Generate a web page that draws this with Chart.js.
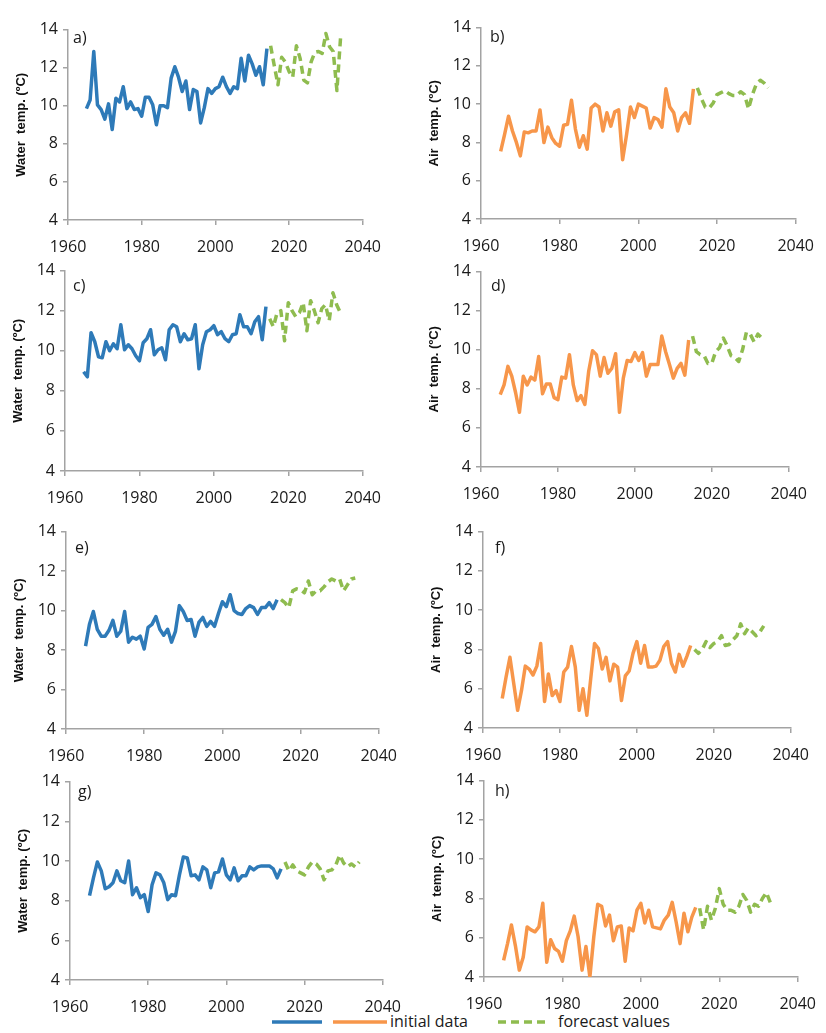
<!DOCTYPE html>
<html>
<head>
<meta charset="utf-8">
<script src="https://cdn.jsdelivr.net/npm/chart.js@4.4.8/dist/chart.umd.min.js"></script>
<style>
  html, body { margin: 0; padding: 0; background: #fff; }
  #page { position: relative; width: 826px; height: 1033px; overflow: hidden; font-family: "Open Sans", sans-serif; color: #1a1a1a; }
  .plabel { position: absolute; font-size: 16px; line-height: 16px; }
  .legtext { position: absolute; top: 1011px; font-size: 16px; line-height: 20px; }
  svg.leg { position: absolute; left: 0; top: 1012px; }
</style>
</head>
<body>
<div id="page">
  <svg class="leg" width="826" height="20">
    <line x1="272" y1="10" x2="322" y2="10" stroke="#2e7ab8" stroke-width="3.5"/>
    <line x1="333" y1="10" x2="387" y2="10" stroke="#f7964a" stroke-width="3.5"/>
    <line x1="498" y1="10" x2="548" y2="10" stroke="#8fbc4f" stroke-width="3.5" stroke-dasharray="8,5"/>
  </svg>
  <div class="legtext" style="left:390px">initial data</div>
  <div class="legtext" style="left:558px">forecast values</div>
</div>
<script>
  // years of the observed series and of the forecasts
  const YEARS_OBS = [1965, 1966, 1967, 1968, 1969, 1970, 1971, 1972, 1973, 1974,
    1975, 1976, 1977, 1978, 1979, 1980, 1981, 1982, 1983, 1984,
    1985, 1986, 1987, 1988, 1989, 1990, 1991, 1992, 1993, 1994,
    1995, 1996, 1997, 1998, 1999, 2000, 2001, 2002, 2003, 2004,
    2005, 2006, 2007, 2008, 2009, 2010, 2011, 2012, 2013, 2014];
  const YEARS_FC_WATER = [2015, 2016, 2017, 2018, 2019, 2020, 2021, 2022, 2023, 2024,
    2025, 2026, 2027, 2028, 2029, 2030, 2031, 2032, 2033, 2034];
  const YEARS_FC_AIR = [2015, 2016, 2017, 2018, 2019, 2020, 2021, 2022, 2023, 2024,
    2025, 2026, 2027, 2028, 2029, 2030, 2031, 2032, 2033];

  const X_TICKS = [1960, 1980, 2000, 2020, 2040];
  const Y_TICKS = [4, 6, 8, 10, 12, 14];
  const PANEL_NAMES = ['a)', 'b)', 'c)', 'd)', 'e)', 'f)', 'g)', 'h)'];
  const WATER_TITLE = 'Water  temp. (ºC)';
  const AIR_TITLE = 'Air  temp. (ºC)';
  const LEGEND_LABELS = ['initial data', 'forecast values'];

  // a) water
  const waterA = [9.85, 10.3, 12.85, 10.05, 9.8, 9.3, 10.1, 8.75, 10.4, 10.2,
    11.0, 9.85, 10.2, 9.8, 9.85, 9.45, 10.45, 10.45, 10.05, 9.0,
    10.0, 10.0, 9.9, 11.45, 12.05, 11.5, 10.75, 11.3, 9.8, 10.85,
    10.75, 9.1, 9.9, 10.9, 10.65, 10.9, 11.0, 11.5, 11.0, 10.65,
    11.0, 10.9, 12.5, 11.3, 12.65, 12.2, 11.6, 12.05, 11.1, 13.0];
  const waterAForecast = [13.15, 12.1, 11.1, 12.55, 12.3, 11.8, 11.5, 13.15, 12.5, 11.35,
    11.2, 12.3, 12.8, 12.85, 12.75, 13.8, 13.1, 12.85, 10.8, 13.6];
  // b) air
  const airB = [7.53, 8.42, 9.37, 8.6, 8.0, 7.3, 8.55, 8.5, 8.6, 8.6,
    9.7, 8.0, 8.8, 8.25, 7.95, 7.8, 8.9, 8.95, 10.2, 8.7,
    7.75, 8.35, 7.65, 9.8, 10.0, 9.85, 8.6, 9.55, 8.85, 9.6,
    9.7, 7.1, 8.4, 9.85, 9.3, 10.0, 9.9, 9.8, 8.75, 9.3,
    9.2, 8.8, 10.8, 9.85, 9.55, 8.6, 9.3, 9.55, 9.0, 10.8];
  const airBForecast = [10.85, 10.3, 9.85, 9.8, 10.05, 10.5, 10.6, 10.7, 10.55, 10.45,
    10.45, 10.65, 10.5, 9.75, 10.5, 11.05, 11.25, 11.1, 10.85];
  // c) water
  const waterC = [8.95, 8.7, 10.9, 10.45, 9.7, 9.65, 10.45, 10.0, 10.35, 10.1,
    11.3, 10.05, 10.3, 10.1, 9.75, 9.5, 10.4, 10.6, 11.05, 9.8,
    10.05, 10.15, 9.55, 11.05, 11.3, 11.2, 10.45, 10.85, 10.55, 10.6,
    11.3, 9.1, 10.3, 10.95, 11.05, 11.25, 10.8, 10.95, 10.6, 10.45,
    10.8, 10.85, 11.8, 11.2, 11.2, 10.85, 11.45, 11.7, 10.55, 12.2];
  const waterCForecast = [11.6, 11.2, 11.9, 12.0, 10.5, 12.4, 12.0, 11.7, 11.9, 12.4,
    11.0, 12.5, 12.0, 11.4, 12.1, 12.3, 11.5, 12.9, 12.3, 11.9];
  // d) air
  const airD = [7.7, 8.2, 9.15, 8.65, 7.8, 6.8, 8.65, 8.2, 8.6, 8.45,
    9.65, 7.75, 8.25, 8.25, 7.55, 7.45, 8.6, 8.55, 9.75, 8.2,
    7.4, 7.65, 7.2, 8.9, 9.95, 9.75, 8.65, 9.6, 8.8, 9.05,
    9.8, 6.8, 8.55, 9.45, 9.4, 9.85, 9.45, 9.85, 8.65, 9.25,
    9.25, 9.25, 10.7, 9.9, 9.25, 8.55, 9.05, 9.3, 8.7, 10.5];
  const airDForecast = [10.7, 9.9, 9.75, 9.7, 9.3, 9.3, 9.9, 10.1, 10.6, 10.2,
    9.7, 9.6, 9.4, 10.0, 10.9, 10.8, 10.4, 10.8, 10.6];
  // e) water
  const waterE = [8.2, 9.3, 9.95, 9.05, 8.7, 8.7, 9.0, 9.5, 8.7, 8.95,
    9.95, 8.4, 8.65, 8.55, 8.7, 8.05, 9.15, 9.3, 9.7, 9.05,
    8.75, 9.05, 8.4, 8.95, 10.25, 9.95, 9.5, 9.55, 8.7, 9.4,
    9.65, 9.2, 9.45, 9.2, 9.85, 10.45, 10.2, 10.8, 10.0, 9.85,
    9.8, 10.1, 10.25, 10.15, 9.8, 10.15, 10.15, 10.4, 10.1, 10.55];
  const waterEForecast = [10.55, 10.4, 10.15, 11.0, 11.1, 11.05, 10.9, 11.5, 10.8, 11.0,
    11.0, 11.2, 11.45, 11.6, 11.5, 11.6, 11.0, 11.3, 11.6, 11.65];
  // f) air
  const airF = [5.5, 6.6, 7.6, 6.25, 4.9, 5.9, 7.15, 7.0, 6.7, 7.15,
    8.3, 5.35, 6.75, 5.65, 5.9, 5.35, 6.85, 7.1, 8.15, 7.1,
    4.9, 6.0, 4.65, 6.5, 8.3, 8.05, 7.0, 7.6, 6.4, 7.25,
    7.1, 5.4, 6.65, 6.9, 7.8, 8.4, 7.3, 8.2, 7.1, 7.1,
    7.15, 7.45, 8.15, 8.4, 7.3, 6.85, 7.75, 7.15, 7.65, 8.2];
  const airFForecast = [8.0, 7.8, 8.0, 8.4, 8.1, 8.3, 8.4, 8.7, 8.2, 8.25,
    8.5, 8.7, 9.3, 8.8, 9.1, 8.9, 8.7, 8.9, 9.2];
  // g) water
  const waterG = [8.25, 9.15, 9.95, 9.5, 8.6, 8.7, 8.9, 9.5, 9.0, 8.9,
    10.0, 8.3, 8.65, 8.15, 8.3, 7.45, 8.8, 9.4, 9.3, 8.9,
    8.05, 8.3, 8.25, 9.3, 10.2, 10.15, 9.25, 9.3, 9.05, 9.7,
    9.55, 8.65, 9.4, 9.45, 10.1, 9.3, 9.05, 9.65, 9.0, 9.25,
    9.25, 9.7, 9.55, 9.7, 9.75, 9.75, 9.75, 9.6, 9.15, 9.6];
  const waterGForecast = [9.95, 9.5, 9.8, 9.5, 9.4, 9.3, 9.7, 9.95, 9.85, 9.6,
    9.05, 9.5, 9.55, 9.8, 10.3, 9.9, 9.7, 9.85, 9.7, 9.95];
  // h) air
  const airH = [4.85, 5.7, 6.65, 5.6, 4.35, 5.0, 6.55, 6.4, 6.3, 6.55,
    7.75, 4.75, 5.9, 5.45, 5.3, 4.8, 5.85, 6.35, 7.1, 6.05,
    4.35, 5.55, 4.0, 6.05, 7.7, 7.6, 6.6, 7.15, 5.85, 6.55,
    6.6, 4.8, 6.5, 6.35, 7.4, 7.75, 6.75, 7.4, 6.55, 6.5,
    6.45, 6.9, 7.15, 7.8, 6.8, 5.7, 7.25, 6.3, 7.05, 7.55];
  const airHForecast = [7.5, 6.4, 7.6, 6.9, 7.5, 8.5, 7.7, 7.4, 7.4, 7.3,
    7.6, 8.2, 7.9, 7.3, 7.7, 7.6, 8.0, 8.3, 7.8];

  const BLUE = '#2e7ab8';
  const ORANGE = '#f7964a';
  const GREEN = '#8fbc4f';
  const AXIS = '#a3a3a3';

  // plot area of every panel in page pixels (left, top, right, bottom)
  const panels = [
    { box: [68, 27, 372, 220], lab: [5, 10], water: true, obs: waterA, fc: waterAForecast },
    { box: [481, 25, 805, 219], lab: [9, 11], water: false, obs: airB, fc: airBForecast },
    { box: [65, 268, 372, 471], lab: [8, 17], water: true, obs: waterC, fc: waterCForecast },
    { box: [481, 269, 798, 467], lab: [10, 16], water: false, obs: airD, fc: airDForecast },
    { box: [66, 529, 388, 729], lab: [9, 18], water: true, obs: waterE, fc: waterEForecast },
    { box: [483, 529, 800, 728], lab: [12, 18], water: false, obs: airF, fc: airFForecast },
    { box: [70, 779, 392, 980], lab: [8, 12], water: true, obs: waterG, fc: waterGForecast },
    { box: [484, 778, 807, 977], lab: [11, 12], water: false, obs: airH, fc: airHForecast }
  ];

  const Y_W = 60;   // width kept for the y axis
  const X_H = 34;   // height kept for the x axis
  const PAD_T = 12;
  const PAD_R = 22;

  const page = document.getElementById('page');

  function makePanel(p, i) {
    const [l, t, r, b] = p.box;
    const w = r - l + Y_W + PAD_R;
    const h = b - t + PAD_T + X_H;
    const cv = document.createElement('canvas');
    cv.width = w;
    cv.height = h;
    cv.style.cssText = 'position:absolute;left:' + (l - Y_W) + 'px;top:' + (t - PAD_T) + 'px;width:' + w + 'px;height:' + h + 'px';
    page.appendChild(cv);

    const lab = document.createElement('div');
    lab.className = 'plabel';
    lab.textContent = PANEL_NAMES[i];
    lab.style.left = (l + p.lab[0]) + 'px';
    lab.style.top = (t + p.lab[1] - 8) + 'px';
    page.appendChild(lab);

    const fcYears = p.water ? YEARS_FC_WATER : YEARS_FC_AIR;
    new Chart(cv, {
      type: 'line',
      data: {
        datasets: [{
          label: LEGEND_LABELS[0],
          data: YEARS_OBS.map((y, k) => ({ x: y, y: p.obs[k] })),
          borderColor: p.water ? BLUE : ORANGE,
          borderWidth: 3.5,
          borderJoinStyle: 'round',
          pointRadius: 0,
          tension: 0
        }, {
          label: LEGEND_LABELS[1],
          data: fcYears.map((y, k) => ({ x: y, y: p.fc[k] })),
          borderColor: GREEN,
          borderWidth: 3.5,
          borderDash: [8, 5],
          borderJoinStyle: 'round',
          pointRadius: 0,
          tension: 0
        }]
      },
      options: {
        responsive: false,
        animation: false,
        events: [],
        layout: { padding: { top: PAD_T, right: PAD_R, left: 0, bottom: 0 } },
        plugins: { legend: { display: false }, tooltip: { enabled: false } },
        scales: {
          x: {
            type: 'linear',
            min: 1960, max: 2040,
            afterFit: s => { s.height = X_H; },
            afterBuildTicks: s => { s.ticks = X_TICKS.map(v => ({ value: v })); },
            border: { color: AXIS, width: 1.5 },
            grid: { drawOnChartArea: false, color: AXIS, tickLength: 5, lineWidth: 1.5 },
            ticks: {
              color: '#1a1a1a', padding: 13, maxRotation: 0,
              font: { family: 'Open Sans', size: 16 },
              callback: v => String(v)
            }
          },
          y: {
            min: 4, max: 14,
            afterFit: s => { s.width = Y_W; },
            afterBuildTicks: s => { s.ticks = Y_TICKS.map(v => ({ value: v })); },
            border: { color: AXIS, width: 1.5 },
            grid: { drawOnChartArea: false, color: AXIS, tickLength: 5, lineWidth: 1.5 },
            ticks: { color: '#1a1a1a', padding: 5, font: { family: 'Open Sans', size: 16 }, callback: v => String(v) },
            title: {
              display: true,
              text: p.water ? WATER_TITLE : AIR_TITLE,
              color: '#111',
              padding: { top: 6, bottom: 0 },
              font: { family: 'Liberation Sans', size: 13, weight: 'bold' }
            }
          }
        }
      }
    });
  }

  panels.forEach(makePanel);
</script>
</body>
</html>
